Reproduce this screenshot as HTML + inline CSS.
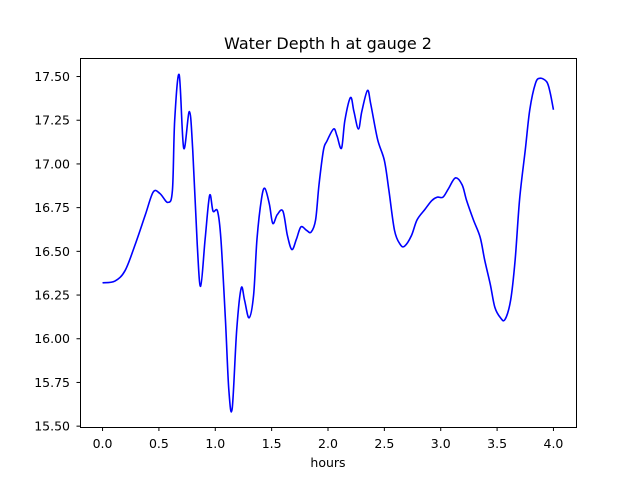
<!DOCTYPE html>
<html><head><meta charset="utf-8"><style>
body{margin:0;background:#fff}
svg{display:block;font-family:"DejaVu Sans","Liberation Sans",sans-serif}
</style></head><body>
<svg id="chart" width="640" height="480">
<rect width="640" height="480" fill="#fff"/>
<text x="328" y="49" text-anchor="middle" font-size="16">Water Depth h at gauge 2</text>
<text x="328" y="467" text-anchor="middle" font-size="12.5">hours</text>
<g id="xticks"></g><g id="yticks"></g>
<path id="line" fill="none" stroke="#0000ff" stroke-width="1.6"/>
<rect x="80.5" y="58.5" width="496" height="369" fill="none" stroke="#000" stroke-width="1"/>
</svg>
<script>
const hours=[0.00,0.11,0.20,0.29,0.38,0.45,0.51,0.58,0.62,0.64,0.68,0.72,0.77,0.80,0.84,0.87,0.91,0.95,0.98,1.02,1.05,1.09,1.12,1.15,1.19,1.23,1.26,1.30,1.34,1.37,1.41,1.44,1.48,1.51,1.55,1.60,1.64,1.68,1.72,1.76,1.81,1.85,1.89,1.92,1.96,1.99,2.05,2.08,2.12,2.15,2.20,2.23,2.27,2.30,2.35,2.38,2.44,2.50,2.54,2.59,2.64,2.68,2.74,2.79,2.86,2.92,2.97,3.02,3.07,3.13,3.19,3.23,3.29,3.35,3.39,3.44,3.48,3.53,3.57,3.62,3.66,3.70,3.75,3.79,3.84,3.88,3.94,3.97,4.00];
const depth=[16.32,16.33,16.39,16.54,16.71,16.84,16.83,16.78,16.85,17.25,17.51,17.09,17.30,17.08,16.54,16.30,16.57,16.82,16.73,16.73,16.57,16.11,15.71,15.60,16.05,16.29,16.22,16.12,16.25,16.57,16.80,16.86,16.77,16.66,16.71,16.73,16.59,16.51,16.57,16.64,16.62,16.61,16.68,16.88,17.08,17.13,17.20,17.16,17.09,17.25,17.38,17.30,17.20,17.30,17.42,17.34,17.14,17.02,16.85,16.62,16.54,16.53,16.59,16.68,16.74,16.79,16.81,16.81,16.86,16.92,16.88,16.79,16.68,16.58,16.45,16.31,16.18,16.12,16.11,16.22,16.45,16.80,17.08,17.31,17.46,17.49,17.47,17.41,17.31];
const xTickLabels=["0.0","0.5","1.0","1.5","2.0","2.5","3.0","3.5","4.0"];
const yTickLabels=["15.50","15.75","16.00","16.25","16.50","16.75","17.00","17.25","17.50"];
const L=80,R=576,T=58,B=427.2;
const xmin=-0.2,xmax=4.2,ymin=15.494,ymax=17.606;
const sx=v=>L+(v-xmin)/(xmax-xmin)*(R-L);
const sy=v=>B-(v-ymin)/(ymax-ymin)*(B-T);
const NS="http://www.w3.org/2000/svg";
const xt=document.getElementById('xticks'),yt=document.getElementById('yticks');
xTickLabels.forEach(s=>{const x=sx(parseFloat(s));
 const l=document.createElementNS(NS,'line');l.setAttribute('x1',x);l.setAttribute('x2',x);l.setAttribute('y1',427.5);l.setAttribute('y2',431);l.setAttribute('stroke','#000');
 
 xt.appendChild(l);
 const t=document.createElementNS(NS,'text');t.setAttribute('x',x);t.setAttribute('y',448);t.setAttribute('text-anchor','middle');t.setAttribute('font-size','12.5');t.textContent=s;
 
 xt.appendChild(t);});
yTickLabels.forEach(s=>{const y=sy(parseFloat(s));
 const l=document.createElementNS(NS,'line');l.setAttribute('x1',76.5);l.setAttribute('x2',80.5);l.setAttribute('y1',y);l.setAttribute('y2',y);l.setAttribute('stroke','#000');
 
 yt.appendChild(l);
 const t=document.createElementNS(NS,'text');t.setAttribute('x',70);t.setAttribute('y',y+4.5);t.setAttribute('text-anchor','end');t.setAttribute('font-size','12.5');t.textContent=s;
 
 yt.appendChild(t);});
const P=hours.map((h,i)=>[sx(h),sy(depth[i])]);
let d='M'+P[0][0]+','+P[0][1];
for(let i=0;i<P.length-1;i++){const p0=P[i-1]||P[i],p1=P[i],p2=P[i+1],p3=P[i+2]||P[i+1];
 const c1=[p1[0]+(p2[0]-p0[0])/6,p1[1]+(p2[1]-p0[1])/6],c2=[p2[0]-(p3[0]-p1[0])/6,p2[1]-(p3[1]-p1[1])/6];
 d+=` C${c1[0]},${c1[1]} ${c2[0]},${c2[1]} ${p2[0]},${p2[1]}`;}
document.getElementById('line').setAttribute('d',d);
</script>
</body></html>
